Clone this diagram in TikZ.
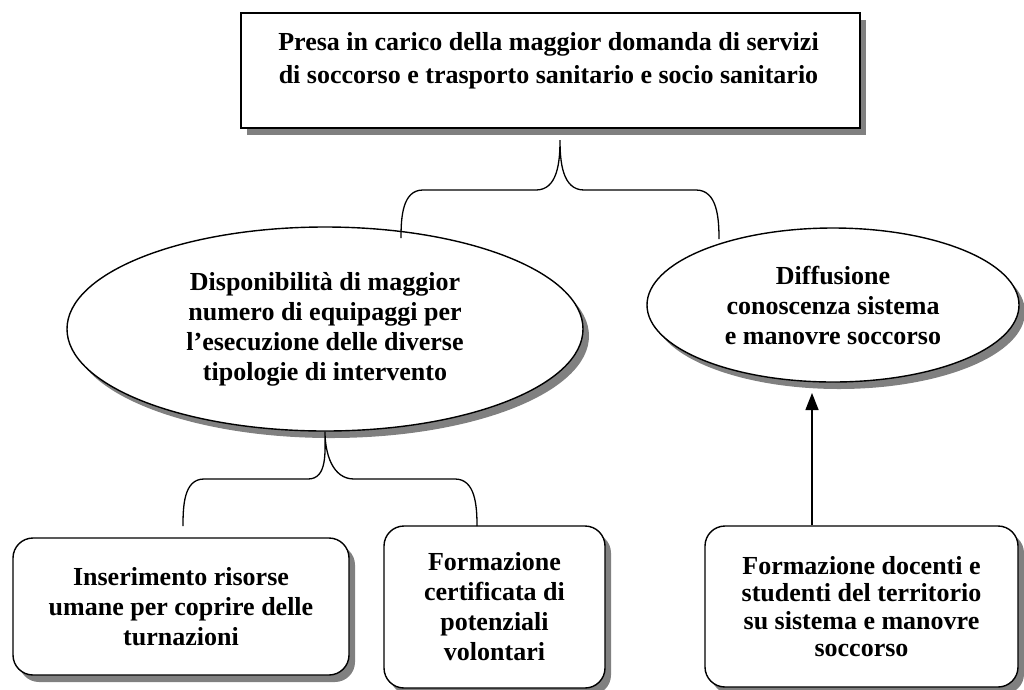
\documentclass[tikz,border=0pt]{standalone}
\usepackage{fontspec}
\setmainfont{Liberation Serif}
\usetikzlibrary{shapes.geometric,shadows,arrows.meta}
\definecolor{shadowgray}{HTML}{808080}
\begin{document}
\begin{tikzpicture}[x=1pt,y=-1pt,
  txt/.style={font=\bfseries\fontsize{26}{30}\selectfont, align=center},
  shadowed/.style={drop shadow={shadow xshift=6pt, shadow yshift=-7pt, fill=shadowgray, opacity=1}},
  shape line/.style={draw=black, line width=1.4pt, fill=white},
  plainbox/.style={shape line, shadowed, rectangle, inner sep=0pt},
  roundbox/.style={shape line, shadowed, rectangle, rounded corners=20pt, inner sep=0pt, txt},
  oval/.style={shape line, shadowed, ellipse, inner sep=0pt, txt},
  brace/.style={draw=black, line width=1.3pt},
  arr/.style={draw=black, line width=1.4pt, -{Triangle[length=17pt,width=13pt]}}
]
\useasboundingbox (0,0) rectangle (1024,689);

% top box
\node[plainbox, minimum width=619pt, minimum height=115pt] (top) at (550.5,70.5) {};
\node[txt, font=\bfseries\fontsize{26}{33}\selectfont, inner sep=0pt, anchor=north] (toptext)
  at ([xshift=-2pt,yshift=-20pt]top.north)
  {Presa in carico della maggior domanda di servizi\\di soccorso e trasporto sanitario e socio sanitario};

% ellipses
\node[oval, minimum width=516pt, minimum height=204pt] (dispo) at (325,329)
  {Disponibilità di maggior\\numero di equipaggi per\\l’esecuzione delle diverse\\tipologie di intervento};
\node[oval, minimum width=372pt, minimum height=154pt] (diff) at (833,305)
  {Diffusione\\conoscenza sistema\\e manovre soccorso};

% bottom boxes
\node[roundbox, minimum width=336pt, minimum height=137pt] (ins) at (181,606.5)
  {Inserimento risorse\\umane per coprire delle\\turnazioni};
\node[roundbox, minimum width=221pt, minimum height=162pt] (form) at (494.5,607)
  {Formazione\\certificata di\\potenziali\\volontari};
\node[roundbox, minimum width=313pt, minimum height=161pt, font=\bfseries\fontsize{26}{27.5}\selectfont] (doc) at (861.5,606.5)
  {Formazione docenti e\\studenti del territorio\\su sistema e manovre\\soccorso};

% brace from top box
\coordinate (b1top) at (560,140);
\coordinate (b1l) at (401,238);
\coordinate (b1r) at (719,239);
\draw[brace] (b1l) to[out=90,in=180] (423,190) -- (536,190) to[out=0,in=-90] (b1top)
  to[out=-90,in=180] (584,190) -- (696,190) to[out=0,in=90] (b1r);

% brace from left ellipse
\coordinate (b2l) at (183,526);
\coordinate (b2r) at (477,526);
\draw[brace] (b2l) to[out=90,in=180] (204,479) -- (308,479) to[out=0,in=-90] (dispo.south)
  to[out=-90,in=180] (354,479) -- (455,479) to[out=0,in=90] (b2r);

% arrow
\coordinate (tip) at (812,393);
\draw[arr] (doc.north -| tip) -- (tip);
\end{tikzpicture}
\end{document}
